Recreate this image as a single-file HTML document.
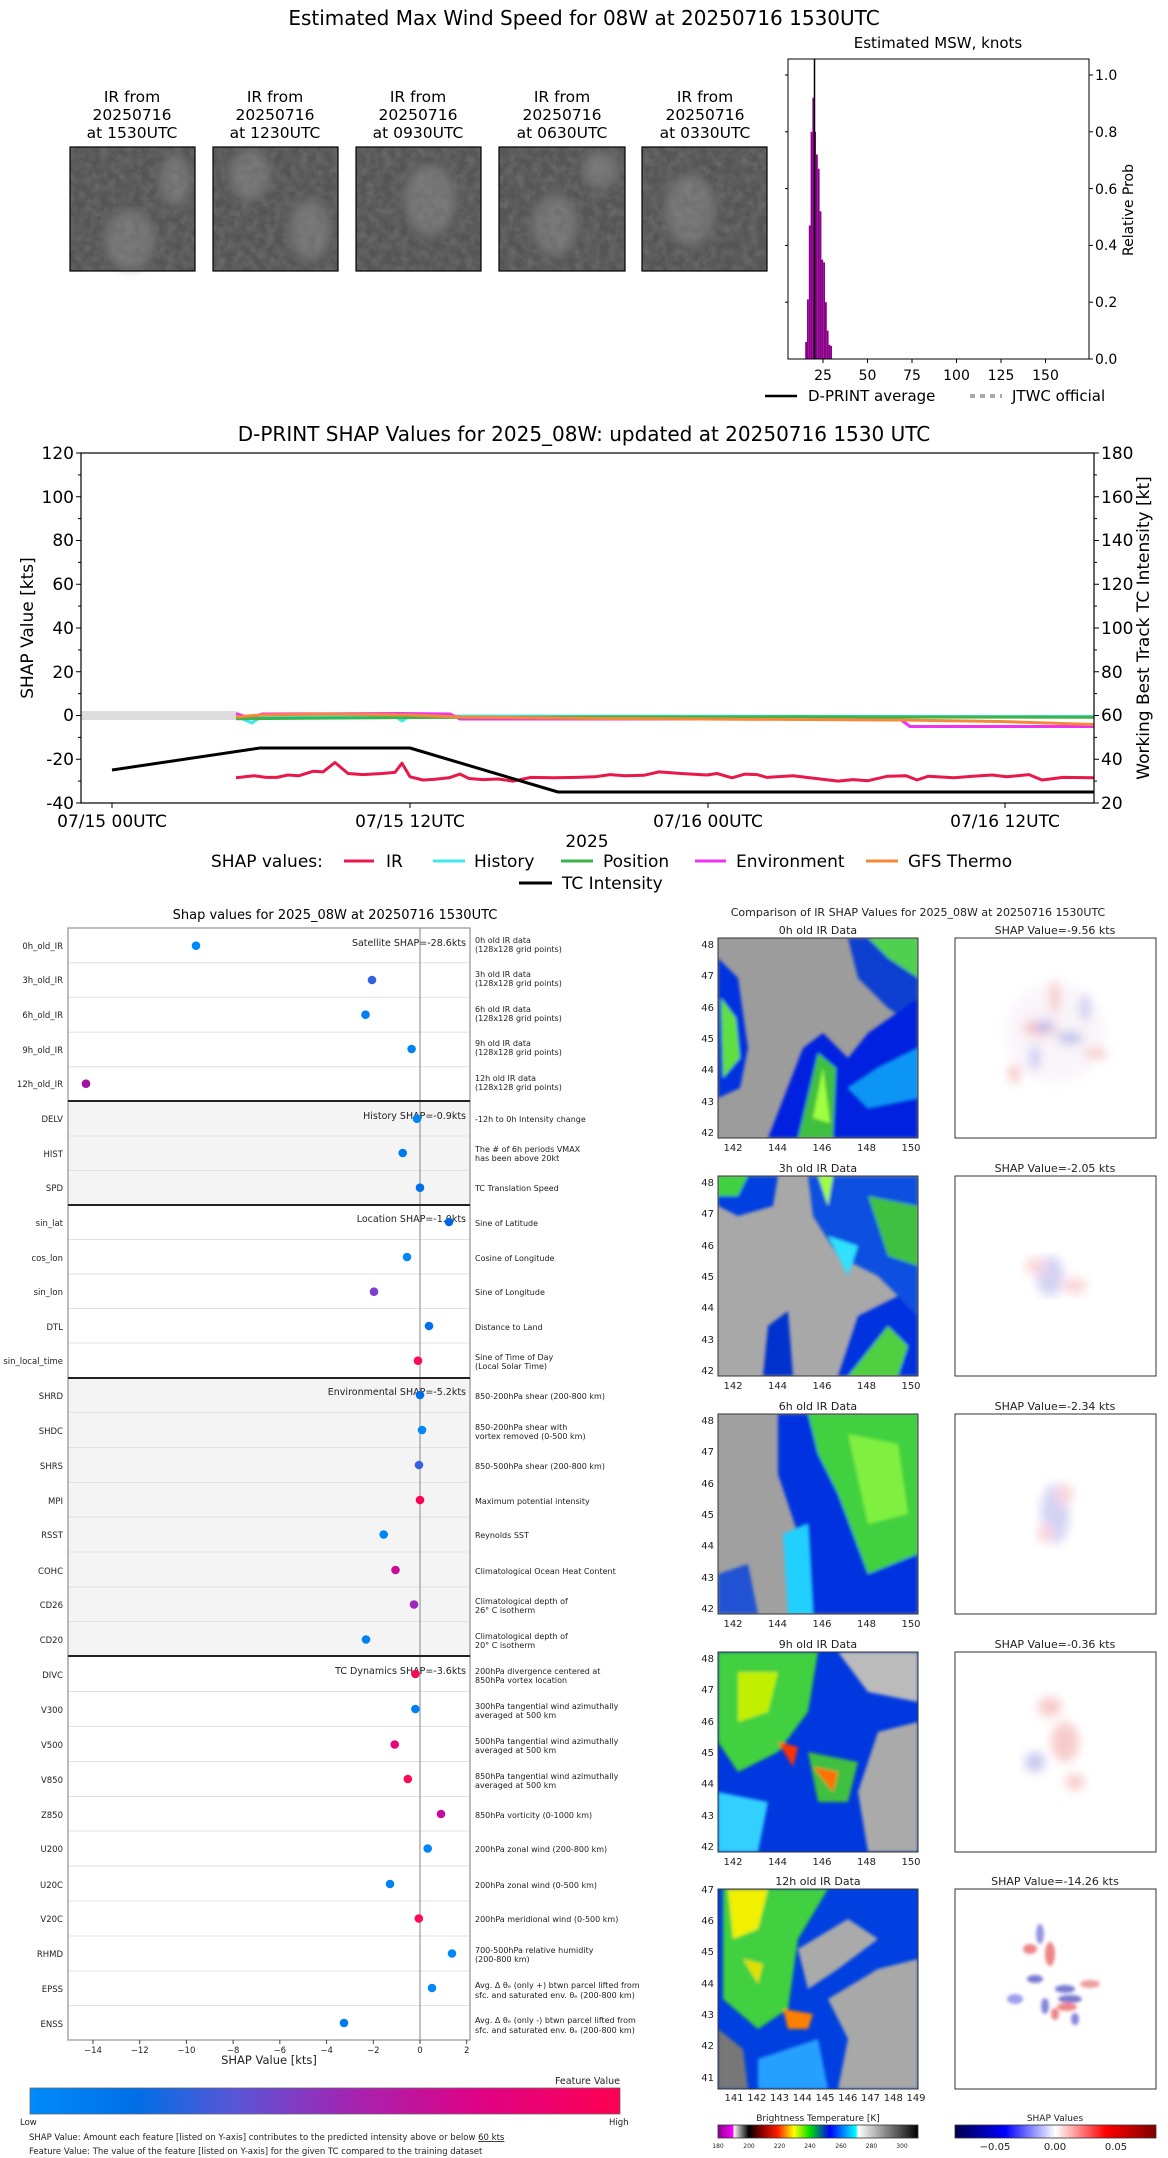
<!DOCTYPE html>
<html><head><meta charset="utf-8"><style>
html,body{margin:0;padding:0;background:#fff}
svg{display:block;font-family:"DejaVu Sans","Liberation Sans",sans-serif}
</style></head><body>
<svg width="1168" height="2158" viewBox="0 0 1168 2158" xmlns="http://www.w3.org/2000/svg">
<defs>
<filter id="turb" x="0" y="0" width="100%" height="100%">
<feTurbulence type="fractalNoise" baseFrequency="0.12" numOctaves="3" seed="3"/>
<feColorMatrix type="matrix" values="0 0 0 0 0.15  0 0 0 0 0.15  0 0 0 0 0.15  1.6 0 0 0 -0.5"/>
</filter>
<filter id="bl"><feGaussianBlur stdDeviation="3"/></filter>
<filter id="bl2"><feGaussianBlur stdDeviation="1.5"/></filter>
<filter id="bl4"><feGaussianBlur stdDeviation="5"/></filter>
<linearGradient id="fv" x1="0" x2="1"><stop offset="0" stop-color="#008bfb"/><stop offset=".18" stop-color="#006fe6"/><stop offset=".35" stop-color="#5a55d6"/><stop offset=".55" stop-color="#a523b0"/><stop offset=".75" stop-color="#dd0388"/><stop offset="1" stop-color="#ff0052"/></linearGradient>
<linearGradient id="bt" x1="0" x2="1"><stop offset="0" stop-color="#8a008a"/><stop offset=".076" stop-color="#ff00ff"/><stop offset=".078" stop-color="#fff"/><stop offset=".154" stop-color="#000"/><stop offset=".23" stop-color="#a00000"/><stop offset=".3" stop-color="#ff2000"/><stop offset=".38" stop-color="#ffff00"/><stop offset=".46" stop-color="#00e000"/><stop offset=".56" stop-color="#0000ff"/><stop offset=".69" stop-color="#00ffff"/><stop offset=".7" stop-color="#fff"/><stop offset="1" stop-color="#000"/></linearGradient>
<linearGradient id="sv" x1="0" x2="1"><stop offset="0" stop-color="#00004c"/><stop offset=".25" stop-color="#0000ff"/><stop offset=".5" stop-color="#fff"/><stop offset=".75" stop-color="#ff0000"/><stop offset="1" stop-color="#800000"/></linearGradient>
<clipPath id="ci"><rect width="200" height="200"/></clipPath>
</defs>

<!-- ============ TOP ============ -->
<text x="584" y="25" font-size="20" text-anchor="middle">Estimated Max Wind Speed for 08W at 20250716 1530UTC</text>
<g font-size="15.5" text-anchor="middle">
<text x="132" y="102">IR from</text><text x="132" y="120">20250716</text><text x="132" y="138">at 1530UTC</text>
<text x="275" y="102">IR from</text><text x="275" y="120">20250716</text><text x="275" y="138">at 1230UTC</text>
<text x="418" y="102">IR from</text><text x="418" y="120">20250716</text><text x="418" y="138">at 0930UTC</text>
<text x="562" y="102">IR from</text><text x="562" y="120">20250716</text><text x="562" y="138">at 0630UTC</text>
<text x="705" y="102">IR from</text><text x="705" y="120">20250716</text><text x="705" y="138">at 0330UTC</text>
</g>
<g fill="#555">
<rect x="70" y="147" width="125" height="124"/>
<rect x="213" y="147" width="125" height="124"/>
<rect x="356" y="147" width="125" height="124"/>
<rect x="499" y="147" width="126" height="124"/>
<rect x="642" y="147" width="125" height="124"/>
</g>
<g fill="#999" opacity=".55" filter="url(#bl4)">
<ellipse cx="130" cy="240" rx="25" ry="30"/><ellipse cx="175" cy="180" rx="15" ry="25"/><ellipse cx="250" cy="175" rx="20" ry="25"/><ellipse cx="310" cy="230" rx="20" ry="30"/><ellipse cx="430" cy="200" rx="25" ry="35"/><ellipse cx="555" cy="225" rx="22" ry="30"/><ellipse cx="600" cy="170" rx="18" ry="18"/><ellipse cx="690" cy="210" rx="25" ry="35"/>
</g>
<rect x="70" y="147" width="125" height="124" filter="url(#turb)"/>
<rect x="213" y="147" width="125" height="124" filter="url(#turb)"/>
<rect x="356" y="147" width="125" height="124" filter="url(#turb)"/>
<rect x="499" y="147" width="126" height="124" filter="url(#turb)"/>
<rect x="642" y="147" width="125" height="124" filter="url(#turb)"/>
<g stroke="#000" stroke-width="1.2" fill="none">
<rect x="70" y="147" width="125" height="124"/>
<rect x="213" y="147" width="125" height="124"/>
<rect x="356" y="147" width="125" height="124"/>
<rect x="499" y="147" width="126" height="124"/>
<rect x="642" y="147" width="125" height="124"/>
</g>

<!-- histogram -->
<text x="938" y="48" font-size="15" text-anchor="middle">Estimated MSW, knots</text>
<g fill="#8b008b">
<rect x="805.2" y="342" width="1.8" height="17"/><rect x="807" y="299.4" width="1.8" height="59.6"/><rect x="808.8" y="225.5" width="1.8" height="133.5"/><rect x="810.6" y="131.8" width="1.8" height="227.2"/><rect x="812.4" y="97.7" width="1.8" height="261.3"/><rect x="814.2" y="131.8" width="1.8" height="227.2"/><rect x="816" y="154.5" width="1.8" height="204.5"/><rect x="817.8" y="168.7" width="1.8" height="190.3"/><rect x="819.6" y="211.3" width="1.8" height="147.7"/><rect x="821.4" y="259.6" width="1.8" height="99.4"/><rect x="823.2" y="262.4" width="1.8" height="96.6"/><rect x="825" y="302.2" width="1.8" height="56.8"/><rect x="826.8" y="330.6" width="1.8" height="28.4"/><rect x="828.6" y="344.8" width="1.8" height="14.2"/><rect x="830.4" y="346" width="1.6" height="13"/>
</g>
<line x1="814.5" y1="59" x2="814.5" y2="359" stroke="#000" stroke-width="1.5"/>
<rect x="788" y="59" width="301" height="300" fill="none" stroke="#000" stroke-width="1"/>
<g stroke="#000"><line x1="823" y1="359" x2="823" y2="363"/><line x1="867.5" y1="359" x2="867.5" y2="363"/><line x1="912" y1="359" x2="912" y2="363"/><line x1="956.5" y1="359" x2="956.5" y2="363"/><line x1="1001" y1="359" x2="1001" y2="363"/><line x1="1045.5" y1="359" x2="1045.5" y2="363"/>
<line x1="1089" y1="359" x2="1093" y2="359"/><line x1="1089" y1="302.2" x2="1093" y2="302.2"/><line x1="1089" y1="245.4" x2="1093" y2="245.4"/><line x1="1089" y1="188.6" x2="1093" y2="188.6"/><line x1="1089" y1="131.8" x2="1093" y2="131.8"/><line x1="1089" y1="75" x2="1093" y2="75"/>
<line x1="788" y1="302.2" x2="785" y2="302.2"/><line x1="788" y1="245.4" x2="785" y2="245.4"/><line x1="788" y1="188.6" x2="785" y2="188.6"/><line x1="788" y1="131.8" x2="785" y2="131.8"/><line x1="788" y1="75" x2="785" y2="75"/></g>
<g font-size="14" text-anchor="middle"><text x="823" y="380">25</text><text x="867.5" y="380">50</text><text x="912" y="380">75</text><text x="956.5" y="380">100</text><text x="1001" y="380">125</text><text x="1045.5" y="380">150</text></g>
<g font-size="14"><text x="1095" y="364">0.0</text><text x="1095" y="307">0.2</text><text x="1095" y="250">0.4</text><text x="1095" y="194">0.6</text><text x="1095" y="137">0.8</text><text x="1095" y="80">1.0</text></g>
<text transform="translate(1133,210) rotate(-90)" font-size="14" text-anchor="middle">Relative Prob</text>
<line x1="765" y1="396" x2="797" y2="396" stroke="#000" stroke-width="2.5"/>
<text x="808" y="401" font-size="15">D-PRINT average</text>
<line x1="970" y1="396" x2="1002" y2="396" stroke="#aaa" stroke-width="4" stroke-dasharray="5,5"/>
<text x="1012" y="401" font-size="15">JTWC official</text>

<!-- ============ CHART 2 ============ -->
<text x="584" y="441" font-size="20" text-anchor="middle">D-PRINT SHAP Values for 2025_08W: updated at 20250716 1530 UTC</text>
<rect x="81" y="711" width="155" height="9" fill="#ddd"/>
<g fill="none" stroke-width="3" stroke-linejoin="round">
<polyline stroke="#40e8f0" points="236,716 252,723 262,716 395,716 402,721 410,716 1094,716.5"/>
<polyline stroke="#ee33ee" points="236,713.5 250,718 262,714 400,713.5 450,714 460,719 900,719 910,726.5 1094,726.5"/>
<polyline stroke="#3cb44b" points="236,718.8 300,718.3 410,717.5 600,717 800,716.8 1094,717.3"/>
<polyline stroke="#f5893a" points="236,717 260,715 330,714 410,715 460,717 600,718.5 900,720 1000,721.5 1094,724.5"/>
<polyline stroke="#e8184a" points="236,777.8 254,775.7 266,777.4 277,777.4 288,775 299,775.7 313,771.3 323,771.9 335,762.5 348,773.5 363,774.6 382,773.5 395,772.4 402,763.2 410,776.8 423,780 434,779.4 449,777.8 460,774.1 469,778.5 483,779.6 498,779 513,781.1 531,777.4 554,777.8 576,777.4 595,776.8 610,774.6 625,775.7 644,775.3 659,771.9 681,773.5 707,775 717,773.5 732,777.8 745,774.1 757,774.6 767,777.4 793,775.7 816,778.5 838,781.1 853,779.6 868,780.7 887,776.3 906,775.7 917,780 928,776.3 954,777.8 973,776.3 992,775 1007,776.8 1029,774.6 1042,780 1063,777.4 1094,777.8"/>
<polyline stroke="#000" points="112,770 260,748 410,748 558,792 1094,792"/>
</g>
<rect x="81" y="453" width="1013" height="350" fill="none" stroke="#000" stroke-width="1.2"/>
<g stroke="#000">
<line x1="81" y1="453" x2="76" y2="453"/><line x1="81" y1="496.75" x2="76" y2="496.75"/><line x1="81" y1="540.5" x2="76" y2="540.5"/><line x1="81" y1="584.25" x2="76" y2="584.25"/><line x1="81" y1="628" x2="76" y2="628"/><line x1="81" y1="671.75" x2="76" y2="671.75"/><line x1="81" y1="715.5" x2="76" y2="715.5"/><line x1="81" y1="759.25" x2="76" y2="759.25"/><line x1="81" y1="803" x2="76" y2="803"/>
<line x1="81" y1="474.9" x2="78" y2="474.9"/><line x1="81" y1="518.6" x2="78" y2="518.6"/><line x1="81" y1="562.4" x2="78" y2="562.4"/><line x1="81" y1="606.1" x2="78" y2="606.1"/><line x1="81" y1="649.9" x2="78" y2="649.9"/><line x1="81" y1="693.6" x2="78" y2="693.6"/><line x1="81" y1="737.4" x2="78" y2="737.4"/><line x1="81" y1="781.1" x2="78" y2="781.1"/>
<line x1="1094" y1="453" x2="1099" y2="453"/><line x1="1094" y1="496.75" x2="1099" y2="496.75"/><line x1="1094" y1="540.5" x2="1099" y2="540.5"/><line x1="1094" y1="584.25" x2="1099" y2="584.25"/><line x1="1094" y1="628" x2="1099" y2="628"/><line x1="1094" y1="671.75" x2="1099" y2="671.75"/><line x1="1094" y1="715.5" x2="1099" y2="715.5"/><line x1="1094" y1="759.25" x2="1099" y2="759.25"/><line x1="1094" y1="803" x2="1099" y2="803"/>
<line x1="1094" y1="474.9" x2="1097" y2="474.9"/><line x1="1094" y1="518.6" x2="1097" y2="518.6"/><line x1="1094" y1="562.4" x2="1097" y2="562.4"/><line x1="1094" y1="606.1" x2="1097" y2="606.1"/><line x1="1094" y1="649.9" x2="1097" y2="649.9"/><line x1="1094" y1="693.6" x2="1097" y2="693.6"/><line x1="1094" y1="737.4" x2="1097" y2="737.4"/><line x1="1094" y1="781.1" x2="1097" y2="781.1"/>
<line x1="112" y1="803" x2="112" y2="808"/><line x1="410" y1="803" x2="410" y2="808"/><line x1="708" y1="803" x2="708" y2="808"/><line x1="1005" y1="803" x2="1005" y2="808"/>
</g>
<g font-size="17" text-anchor="end"><text x="74" y="459">120</text><text x="74" y="503">100</text><text x="74" y="546">80</text><text x="74" y="590">60</text><text x="74" y="634">40</text><text x="74" y="678">20</text><text x="74" y="721">0</text><text x="74" y="765">-20</text><text x="74" y="809">-40</text></g>
<g font-size="17"><text x="1101" y="459">180</text><text x="1101" y="503">160</text><text x="1101" y="546">140</text><text x="1101" y="590">120</text><text x="1101" y="634">100</text><text x="1101" y="678">80</text><text x="1101" y="721">60</text><text x="1101" y="765">40</text><text x="1101" y="809">20</text></g>
<g font-size="17" text-anchor="middle"><text x="112" y="827">07/15 00UTC</text><text x="410" y="827">07/15 12UTC</text><text x="708" y="827">07/16 00UTC</text><text x="1005" y="827">07/16 12UTC</text><text x="587" y="847">2025</text></g>
<text transform="translate(33,628) rotate(-90)" font-size="17" text-anchor="middle">SHAP Value [kts]</text>
<text transform="translate(1149,628) rotate(-90)" font-size="17" text-anchor="middle">Working Best Track TC Intensity [kt]</text>
<g font-size="17">
<text x="211" y="867">SHAP values:</text>
<line x1="344" y1="861" x2="374" y2="861" stroke="#e8184a" stroke-width="3"/><text x="386" y="867">IR</text>
<line x1="433" y1="861" x2="465" y2="861" stroke="#40e8f0" stroke-width="3"/><text x="474" y="867">History</text>
<line x1="561" y1="861" x2="593" y2="861" stroke="#3cb44b" stroke-width="3"/><text x="603" y="867">Position</text>
<line x1="695" y1="861" x2="726" y2="861" stroke="#ee33ee" stroke-width="3"/><text x="736" y="867">Environment</text>
<line x1="866" y1="861" x2="898" y2="861" stroke="#f5893a" stroke-width="3"/><text x="908" y="867">GFS Thermo</text>
<line x1="519" y1="883" x2="552" y2="883" stroke="#000" stroke-width="3"/><text x="562" y="889">TC Intensity</text>
</g>

<!-- ============ BOTTOM LEFT ============ -->
<text x="335" y="919" font-size="13" text-anchor="middle">Shap values for 2025_08W at 20250716 1530UTC</text>
<rect x="68" y="1101" width="402" height="104" fill="#f4f4f4"/>
<rect x="68" y="1378" width="402" height="278" fill="#f4f4f4"/>
<g stroke="#e2e2e2" stroke-width="1">
<line x1="68" y1="962.7" x2="470" y2="962.7"/><line x1="68" y1="997.4" x2="470" y2="997.4"/><line x1="68" y1="1032.1" x2="470" y2="1032.1"/><line x1="68" y1="1066.8" x2="470" y2="1066.8"/>
<line x1="68" y1="1136" x2="470" y2="1136"/><line x1="68" y1="1170.5" x2="470" y2="1170.5"/>
<line x1="68" y1="1239.5" x2="470" y2="1239.5"/><line x1="68" y1="1274" x2="470" y2="1274"/><line x1="68" y1="1308.5" x2="470" y2="1308.5"/><line x1="68" y1="1343" x2="470" y2="1343"/>
<line x1="68" y1="1412.5" x2="470" y2="1412.5"/><line x1="68" y1="1447.5" x2="470" y2="1447.5"/><line x1="68" y1="1482.5" x2="470" y2="1482.5"/><line x1="68" y1="1517" x2="470" y2="1517"/><line x1="68" y1="1552" x2="470" y2="1552"/><line x1="68" y1="1587" x2="470" y2="1587"/><line x1="68" y1="1621.5" x2="470" y2="1621.5"/>
<line x1="68" y1="1691.5" x2="470" y2="1691.5"/><line x1="68" y1="1726.5" x2="470" y2="1726.5"/><line x1="68" y1="1761.5" x2="470" y2="1761.5"/><line x1="68" y1="1796.5" x2="470" y2="1796.5"/><line x1="68" y1="1831" x2="470" y2="1831"/><line x1="68" y1="1866" x2="470" y2="1866"/><line x1="68" y1="1901" x2="470" y2="1901"/><line x1="68" y1="1936" x2="470" y2="1936"/><line x1="68" y1="1971" x2="470" y2="1971"/><line x1="68" y1="2005.5" x2="470" y2="2005.5"/>
</g>
<line x1="420" y1="928" x2="420" y2="2040" stroke="#999" stroke-width="1.2"/>
<rect x="68" y="928" width="402" height="1112" fill="none" stroke="#999" stroke-width="1.3"/>
<g stroke="#222" stroke-width="2"><line x1="68" y1="1101" x2="470" y2="1101"/><line x1="68" y1="1205" x2="470" y2="1205"/><line x1="68" y1="1378" x2="470" y2="1378"/><line x1="68" y1="1656" x2="470" y2="1656"/></g>
<g font-size="9.5" text-anchor="end" fill="#222">
<text x="466" y="946">Satellite SHAP=-28.6kts</text>
<text x="466" y="1119">History SHAP=-0.9kts</text>
<text x="466" y="1222">Location SHAP=-1.0kts</text>
<text x="466" y="1395">Environmental SHAP=-5.2kts</text>
<text x="466" y="1674">TC Dynamics SHAP=-3.6kts</text>
</g>
<g font-size="8.5" text-anchor="end" fill="#222">
<text x="63" y="949">0h_old_IR</text><text x="63" y="983">3h_old_IR</text><text x="63" y="1018">6h_old_IR</text><text x="63" y="1053">9h_old_IR</text><text x="63" y="1087">12h_old_IR</text>
<text x="63" y="1122">DELV</text><text x="63" y="1157">HIST</text><text x="63" y="1191">SPD</text>
<text x="63" y="1226">sin_lat</text><text x="63" y="1261">cos_lon</text><text x="63" y="1295">sin_lon</text><text x="63" y="1330">DTL</text><text x="63" y="1364">sin_local_time</text>
<text x="63" y="1399">SHRD</text><text x="63" y="1434">SHDC</text><text x="63" y="1469">SHRS</text><text x="63" y="1504">MPI</text><text x="63" y="1538">RSST</text><text x="63" y="1574">COHC</text><text x="63" y="1608">CD26</text><text x="63" y="1643">CD20</text>
<text x="63" y="1678">DIVC</text><text x="63" y="1713">V300</text><text x="63" y="1748">V500</text><text x="63" y="1783">V850</text><text x="63" y="1818">Z850</text><text x="63" y="1852">U200</text><text x="63" y="1888">U20C</text><text x="63" y="1922">V20C</text><text x="63" y="1957">RHMD</text><text x="63" y="1992">EPSS</text><text x="63" y="2027">ENSS</text>
</g>
<g font-size="8" fill="#222">
<text x="475" y="943">0h old IR data</text><text x="475" y="952">(128x128 grid points)</text>
<text x="475" y="977">3h old IR data</text><text x="475" y="986">(128x128 grid points)</text>
<text x="475" y="1012">6h old IR data</text><text x="475" y="1021">(128x128 grid points)</text>
<text x="475" y="1046">9h old IR data</text><text x="475" y="1055">(128x128 grid points)</text>
<text x="475" y="1081">12h old IR data</text><text x="475" y="1090">(128x128 grid points)</text>
<text x="475" y="1122">-12h to 0h Intensity change</text>
<text x="475" y="1152">The # of 6h periods VMAX</text><text x="475" y="1161">has been above 20kt</text>
<text x="475" y="1191">TC Translation Speed</text>
<text x="475" y="1226">Sine of Latitude</text>
<text x="475" y="1261">Cosine of Longitude</text>
<text x="475" y="1295">Sine of Longitude</text>
<text x="475" y="1330">Distance to Land</text>
<text x="475" y="1360">Sine of Time of Day</text><text x="475" y="1369">(Local Solar Time)</text>
<text x="475" y="1399">850-200hPa shear (200-800 km)</text>
<text x="475" y="1430">850-200hPa shear with</text><text x="475" y="1439">vortex removed (0-500 km)</text>
<text x="475" y="1469">850-500hPa shear (200-800 km)</text>
<text x="475" y="1504">Maximum potential intensity</text>
<text x="475" y="1538">Reynolds SST</text>
<text x="475" y="1574">Climatological Ocean Heat Content</text>
<text x="475" y="1604">Climatological depth of</text><text x="475" y="1613">26° C isotherm</text>
<text x="475" y="1639">Climatological depth of</text><text x="475" y="1648">20° C isotherm</text>
<text x="475" y="1674">200hPa divergence centered at</text><text x="475" y="1683">850hPa vortex location</text>
<text x="475" y="1709">300hPa tangential wind azimuthally</text><text x="475" y="1718">averaged at 500 km</text>
<text x="475" y="1744">500hPa tangential wind azimuthally</text><text x="475" y="1753">averaged at 500 km</text>
<text x="475" y="1779">850hPa tangential wind azimuthally</text><text x="475" y="1788">averaged at 500 km</text>
<text x="475" y="1818">850hPa vorticity (0-1000 km)</text>
<text x="475" y="1852">200hPa zonal wind (200-800 km)</text>
<text x="475" y="1888">200hPa zonal wind (0-500 km)</text>
<text x="475" y="1922">200hPa meridional wind (0-500 km)</text>
<text x="475" y="1953">700-500hPa relative humidity</text><text x="475" y="1962">(200-800 km)</text>
<text x="475" y="1988">Avg. Δ θₑ (only +) btwn parcel lifted from</text><text x="475" y="1998">sfc. and saturated env. θₑ (200-800 km)</text>
<text x="475" y="2023">Avg. Δ θₑ (only -) btwn parcel lifted from</text><text x="475" y="2033">sfc. and saturated env. θₑ (200-800 km)</text>
</g>
<g>
<circle cx="196" cy="945.7" r="4.3" fill="#0088f8"/><circle cx="372" cy="980" r="4.3" fill="#2e63e0"/><circle cx="365.5" cy="1014.7" r="4.3" fill="#0080f4"/><circle cx="411.6" cy="1049" r="4.3" fill="#0082f5"/><circle cx="86" cy="1083.7" r="4.3" fill="#a0139e"/>
<circle cx="417" cy="1118.7" r="4.3" fill="#0085f6"/><circle cx="402.7" cy="1153" r="4.3" fill="#0078f0"/><circle cx="420" cy="1187.7" r="4.3" fill="#0070ea"/>
<circle cx="449" cy="1222" r="4.3" fill="#0068e4"/><circle cx="407" cy="1257" r="4.3" fill="#0088f8"/><circle cx="374" cy="1291.7" r="4.3" fill="#7a3fd0"/><circle cx="429" cy="1326" r="4.3" fill="#0070ea"/><circle cx="418" cy="1360.7" r="4.3" fill="#ff0a55"/>
<circle cx="420" cy="1395" r="4.3" fill="#0070ea"/><circle cx="422" cy="1430" r="4.3" fill="#0088f8"/><circle cx="419" cy="1465" r="4.3" fill="#3a5fe0"/><circle cx="420" cy="1500" r="4.3" fill="#ff0055"/><circle cx="383.7" cy="1534.5" r="4.3" fill="#0085f6"/><circle cx="395.5" cy="1570" r="4.3" fill="#cc0a98"/><circle cx="414" cy="1604.5" r="4.3" fill="#9a28b8"/><circle cx="366" cy="1639.5" r="4.3" fill="#0080f4"/>
<circle cx="415.4" cy="1674" r="4.3" fill="#f50a5a"/><circle cx="415.4" cy="1709" r="4.3" fill="#0080f4"/><circle cx="394.7" cy="1744.5" r="4.3" fill="#e8037a"/><circle cx="407.8" cy="1779" r="4.3" fill="#f80a55"/><circle cx="441" cy="1814" r="4.3" fill="#c8089c"/><circle cx="427.7" cy="1848.5" r="4.3" fill="#0085f6"/><circle cx="390" cy="1884" r="4.3" fill="#0082f5"/><circle cx="418.8" cy="1918.5" r="4.3" fill="#ff0a55"/><circle cx="452" cy="1953.5" r="4.3" fill="#0088f8"/><circle cx="432" cy="1988" r="4.3" fill="#0088f8"/><circle cx="344" cy="2023" r="4.3" fill="#0078f0"/>
</g>
<g stroke="#444"><line x1="93" y1="2040" x2="93" y2="2044"/><line x1="139.7" y1="2040" x2="139.7" y2="2044"/><line x1="186.4" y1="2040" x2="186.4" y2="2044"/><line x1="233.1" y1="2040" x2="233.1" y2="2044"/><line x1="279.8" y1="2040" x2="279.8" y2="2044"/><line x1="326.6" y1="2040" x2="326.6" y2="2044"/><line x1="373.3" y1="2040" x2="373.3" y2="2044"/><line x1="420" y1="2040" x2="420" y2="2044"/><line x1="466.7" y1="2040" x2="466.7" y2="2044"/></g>
<g font-size="8.5" text-anchor="middle" fill="#222"><text x="93" y="2053">−14</text><text x="139.7" y="2053">−12</text><text x="186.4" y="2053">−10</text><text x="233.1" y="2053">−8</text><text x="279.8" y="2053">−6</text><text x="326.6" y="2053">−4</text><text x="373.3" y="2053">−2</text><text x="420" y="2053">0</text><text x="466.7" y="2053">2</text></g>
<text x="269" y="2064" font-size="11.5" text-anchor="middle" fill="#222">SHAP Value [kts]</text>
<text x="620" y="2084" font-size="9.5" text-anchor="end" fill="#222">Feature Value</text>
<rect x="30" y="2088" width="590" height="26" fill="url(#fv)" stroke="#666" stroke-width=".8"/>
<text x="20" y="2125" font-size="8.5" fill="#222">Low</text>
<text x="609" y="2125" font-size="8.5" fill="#222">High</text>
<text x="29" y="2140" font-size="8.5" fill="#222">SHAP Value: Amount each feature [listed on Y-axis] contributes to the predicted intensity above or below <tspan text-decoration="underline">60 kts</tspan></text>
<text x="29" y="2154" font-size="8.5" fill="#222">Feature Value: The value of the feature [listed on Y-axis] for the given TC compared to the training dataset</text>

<!-- ============ BOTTOM RIGHT ============ -->
<text x="918" y="916" font-size="11" text-anchor="middle" fill="#222">Comparison of IR SHAP Values for 2025_08W at 20250716 1530UTC</text>
<g font-size="11" text-anchor="middle" fill="#222">
<text x="818" y="934">0h old IR Data</text><text x="1055" y="934">SHAP Value=-9.56 kts</text>
<text x="818" y="1172">3h old IR Data</text><text x="1055" y="1172">SHAP Value=-2.05 kts</text>
<text x="818" y="1410">6h old IR Data</text><text x="1055" y="1410">SHAP Value=-2.34 kts</text>
<text x="818" y="1648">9h old IR Data</text><text x="1055" y="1648">SHAP Value=-0.36 kts</text>
<text x="818" y="1885">12h old IR Data</text><text x="1055" y="1885">SHAP Value=-14.26 kts</text>
</g>

<!-- IR panels -->
<g transform="translate(718,938)" clip-path="url(#ci)">
<rect width="200" height="200" fill="#9c9c9c"/>
<g filter="url(#bl2)">
<path d="M0,20 L20,40 L30,110 L22,150 L0,160Z" fill="#0030e0"/><path d="M3,60 L18,80 L22,120 L5,140Z" fill="#60e040"/>
<path d="M130,0 L200,0 L200,90 L170,70 L140,40Z" fill="#1040d0"/><path d="M150,0 L200,0 L200,40 L170,20Z" fill="#50d050"/>
<path d="M50,200 L85,110 L105,95 L130,120 L150,95 L200,60 L200,200Z" fill="#0020e0"/><path d="M80,200 L100,115 L118,130 L115,200Z" fill="#40c040"/><path d="M95,180 L105,130 L112,185Z" fill="#a0ff40"/>
<path d="M130,150 L160,130 L200,110 L200,160 L150,170Z" fill="#18c8ff" opacity=".7"/>
</g></g>
<g transform="translate(718,1176)" clip-path="url(#ci)">
<rect width="200" height="200" fill="#a8a8a8"/>
<g filter="url(#bl2)">
<path d="M0,0 L60,0 L55,30 L20,40 L0,30Z" fill="#0040e0"/><path d="M0,0 L30,0 L20,20 L0,20Z" fill="#40d040"/>
<path d="M90,0 L200,0 L200,140 L160,100 L120,80 L95,40Z" fill="#1050e0"/><path d="M100,0 L115,0 L110,30Z" fill="#a0ff40"/><path d="M150,20 L200,30 L200,90 L170,80Z" fill="#40c040"/>
<path d="M110,60 L140,70 L130,100Z" fill="#30e0ff"/>
<path d="M50,150 L70,135 L75,200 L45,200Z" fill="#0030d0"/>
<path d="M120,200 L140,140 L180,120 L200,140 L200,200Z" fill="#0030e0"/><path d="M130,200 L170,150 L190,170 L180,200Z" fill="#50d040"/>
</g></g>
<g transform="translate(718,1414)" clip-path="url(#ci)">
<rect width="200" height="200" fill="#a0a0a0"/>
<g filter="url(#bl2)">
<path d="M60,0 L200,0 L200,200 L90,200 L80,120 L60,60Z" fill="#0030e0"/>
<path d="M90,0 L200,0 L200,140 L150,160 L120,80 L100,40Z" fill="#40d040"/>
<path d="M130,20 L180,30 L190,100 L150,110Z" fill="#80f040"/>
<path d="M65,120 L90,110 L95,200 L70,200Z" fill="#20d0ff"/>
<path d="M0,160 L30,150 L40,200 L0,200Z" fill="#0040e0" opacity=".8"/>
</g></g>
<g transform="translate(718,1652)" clip-path="url(#ci)">
<rect width="200" height="200" fill="#0038e0"/>
<g filter="url(#bl2)">
<path d="M0,0 L100,0 L90,60 L60,100 L20,120 L0,90Z" fill="#40d040"/>
<path d="M20,20 L60,20 L50,60 L20,70Z" fill="#c0f000"/>
<path d="M120,0 L200,0 L200,50 L150,40Z" fill="#bbb"/>
<path d="M160,80 L200,70 L200,200 L150,200 L140,140Z" fill="#aaa"/>
<path d="M90,100 L140,110 L130,150 L100,150Z" fill="#40c040"/><path d="M95,115 L120,120 L115,140 Z" fill="#ff7000"/><path d="M60,90 L80,95 L75,115Z" fill="#ff3000"/>
<path d="M0,140 L50,150 L40,200 L0,200Z" fill="#30d0ff"/>
</g></g>
<g transform="translate(718,1889)" clip-path="url(#ci)">
<rect width="200" height="200" fill="#0040e0"/>
<g filter="url(#bl2)">
<path d="M5,0 L110,0 L80,50 L70,120 L40,140 L5,110Z" fill="#40d040"/>
<path d="M10,0 L50,0 L40,40 L15,50Z" fill="#f0f000"/><path d="M25,70 L45,75 L40,95Z" fill="#e0e000"/>
<path d="M65,120 L95,125 L90,140 L70,140Z" fill="#ff8000"/>
<path d="M80,60 L130,30 L160,50 L120,80 L90,100Z" fill="#aaa"/>
<path d="M110,110 L160,80 L200,70 L200,200 L120,200 L130,150Z" fill="#a8a8a8"/>
<path d="M0,140 L25,160 L30,200 L0,200Z" fill="#777"/>
<path d="M40,170 L100,150 L110,200 L40,200Z" fill="#28a0ff"/>
</g></g>
<g fill="none" stroke="#333" stroke-width="1">
<rect x="718" y="938" width="200" height="200"/><rect x="718" y="1176" width="200" height="200"/><rect x="718" y="1414" width="200" height="200"/><rect x="718" y="1652" width="200" height="200"/><rect x="718" y="1889" width="200" height="200"/>
</g>

<!-- SHAP panels -->
<g transform="translate(955,938)">
<rect width="201" height="200" fill="#fff"/>
<g filter="url(#bl4)" opacity=".3">
<ellipse cx="100" cy="95" rx="50" ry="50" fill="#f0e0f0"/>
<ellipse cx="85" cy="90" rx="18" ry="10" fill="#e03030"/><ellipse cx="90" cy="88" rx="10" ry="8" fill="#2020c0"/><ellipse cx="115" cy="100" rx="14" ry="8" fill="#2020c0"/><ellipse cx="100" cy="60" rx="6" ry="18" fill="#e04040"/><ellipse cx="80" cy="120" rx="6" ry="14" fill="#4040e0"/><ellipse cx="60" cy="135" rx="6" ry="10" fill="#e04040"/><ellipse cx="130" cy="70" rx="6" ry="14" fill="#4040d0"/><ellipse cx="140" cy="115" rx="12" ry="6" fill="#e04040"/>
</g></g>
<g transform="translate(955,1176)">
<rect width="201" height="200" fill="#fff"/>
<g filter="url(#bl4)" opacity=".2">
<ellipse cx="95" cy="100" rx="14" ry="20" fill="#2020c0"/><ellipse cx="120" cy="110" rx="12" ry="8" fill="#e03030"/><ellipse cx="80" cy="90" rx="10" ry="8" fill="#e03030"/>
</g></g>
<g transform="translate(955,1414)">
<rect width="201" height="200" fill="#fff"/>
<g filter="url(#bl4)" opacity=".2">
<ellipse cx="100" cy="100" rx="14" ry="30" fill="#2020c0"/><ellipse cx="110" cy="80" rx="8" ry="10" fill="#e03030"/><ellipse cx="90" cy="120" rx="8" ry="8" fill="#e03030"/>
</g></g>
<g transform="translate(955,1652)">
<rect width="201" height="200" fill="#fff"/>
<g filter="url(#bl4)" opacity=".25">
<ellipse cx="95" cy="55" rx="12" ry="10" fill="#e03030"/><ellipse cx="110" cy="90" rx="14" ry="20" fill="#e03030"/><ellipse cx="80" cy="110" rx="10" ry="10" fill="#2020c0"/><ellipse cx="120" cy="130" rx="10" ry="8" fill="#e03030"/>
</g></g>
<g transform="translate(955,1889)">
<rect width="201" height="200" fill="#fff"/>
<g filter="url(#bl2)" opacity=".55">
<ellipse cx="75" cy="60" rx="7" ry="5" fill="#e02020"/><ellipse cx="95" cy="65" rx="5" ry="12" fill="#e02020"/><ellipse cx="80" cy="90" rx="8" ry="4" fill="#1010b0"/><ellipse cx="110" cy="100" rx="10" ry="4" fill="#1010b0"/><ellipse cx="115" cy="110" rx="12" ry="4" fill="#1010a0"/><ellipse cx="112" cy="118" rx="10" ry="4" fill="#e02020"/><ellipse cx="90" cy="117" rx="4" ry="8" fill="#2020c0"/><ellipse cx="100" cy="125" rx="4" ry="6" fill="#e02020"/><ellipse cx="135" cy="95" rx="10" ry="4" fill="#e05050"/><ellipse cx="85" cy="45" rx="4" ry="10" fill="#4040d0"/><ellipse cx="60" cy="110" rx="8" ry="5" fill="#5050e0"/><ellipse cx="120" cy="130" rx="4" ry="6" fill="#2020c0"/>
</g></g>
<g fill="none" stroke="#333" stroke-width="1">
<rect x="955" y="938" width="201" height="200"/><rect x="955" y="1176" width="201" height="200"/><rect x="955" y="1414" width="201" height="200"/><rect x="955" y="1652" width="201" height="200"/><rect x="955" y="1889" width="201" height="200"/>
</g>

<!-- IR axis ticks/labels -->
<g font-size="10" fill="#222" text-anchor="end">
<text x="714" y="948">48</text><text x="714" y="979">47</text><text x="714" y="1011">46</text><text x="714" y="1042">45</text><text x="714" y="1073">44</text><text x="714" y="1105">43</text><text x="714" y="1136">42</text>
<text x="714" y="1186">48</text><text x="714" y="1217">47</text><text x="714" y="1249">46</text><text x="714" y="1280">45</text><text x="714" y="1311">44</text><text x="714" y="1343">43</text><text x="714" y="1374">42</text>
<text x="714" y="1424">48</text><text x="714" y="1455">47</text><text x="714" y="1487">46</text><text x="714" y="1518">45</text><text x="714" y="1549">44</text><text x="714" y="1581">43</text><text x="714" y="1612">42</text>
<text x="714" y="1662">48</text><text x="714" y="1693">47</text><text x="714" y="1725">46</text><text x="714" y="1756">45</text><text x="714" y="1787">44</text><text x="714" y="1819">43</text><text x="714" y="1850">42</text>
<text x="714" y="1893">47</text><text x="714" y="1924">46</text><text x="714" y="1955">45</text><text x="714" y="1987">44</text><text x="714" y="2018">43</text><text x="714" y="2049">42</text><text x="714" y="2081">41</text>
</g>
<g font-size="10" fill="#222" text-anchor="middle">
<text x="733" y="1151">142</text><text x="777.5" y="1151">144</text><text x="822" y="1151">146</text><text x="866.5" y="1151">148</text><text x="911" y="1151">150</text>
<text x="733" y="1389">142</text><text x="777.5" y="1389">144</text><text x="822" y="1389">146</text><text x="866.5" y="1389">148</text><text x="911" y="1389">150</text>
<text x="733" y="1627">142</text><text x="777.5" y="1627">144</text><text x="822" y="1627">146</text><text x="866.5" y="1627">148</text><text x="911" y="1627">150</text>
<text x="733" y="1865">142</text><text x="777.5" y="1865">144</text><text x="822" y="1865">146</text><text x="866.5" y="1865">148</text><text x="911" y="1865">150</text>
<text x="734" y="2101">141</text><text x="756.8" y="2101">142</text><text x="779.5" y="2101">143</text><text x="802.3" y="2101">144</text><text x="825" y="2101">145</text><text x="847.8" y="2101">146</text><text x="870.5" y="2101">147</text><text x="893.3" y="2101">148</text><text x="916" y="2101">149</text>
</g>

<!-- colorbars -->
<text x="818" y="2121" font-size="9" text-anchor="middle" fill="#222">Brightness Temperature [K]</text>
<rect x="718" y="2125" width="200" height="13" fill="url(#bt)" stroke="#333" stroke-width=".8"/>
<g font-size="6" text-anchor="middle" fill="#222"><text x="718" y="2148">180</text><text x="749" y="2148">200</text><text x="779.5" y="2148">220</text><text x="810" y="2148">240</text><text x="841" y="2148">260</text><text x="871.5" y="2148">280</text><text x="902" y="2148">300</text></g>
<text x="1055" y="2121" font-size="9" text-anchor="middle" fill="#222">SHAP Values</text>
<rect x="955" y="2125" width="201" height="13" fill="url(#sv)" stroke="#333" stroke-width=".8"/>
<g font-size="10" text-anchor="middle" fill="#222"><text x="995" y="2150">−0.05</text><text x="1055" y="2150">0.00</text><text x="1116" y="2150">0.05</text></g>
</svg>
</body></html>
